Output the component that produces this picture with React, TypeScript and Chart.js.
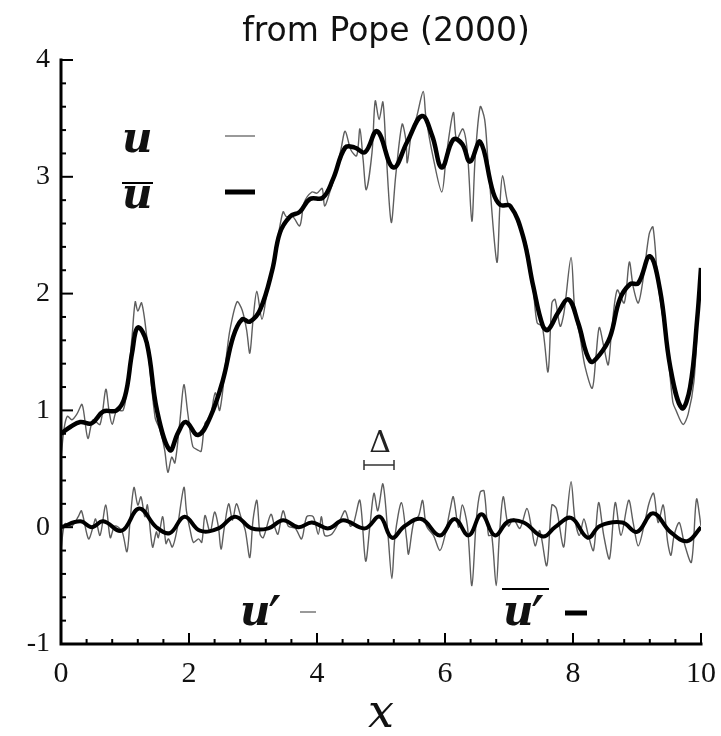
import React, { useEffect, useRef } from "react";
import { Chart, registerables } from "chart.js";

Chart.register(...registerables);

// ---- data ----
// u : instantaneous signal (thin line)
const uX = [0.0, 0.05, 0.1, 0.17, 0.25, 0.33, 0.42, 0.5, 0.61, 0.7, 0.75, 0.8, 0.87, 0.97, 1.03, 1.11, 1.16, 1.2, 1.26, 1.34, 1.47, 1.55, 1.62, 1.67, 1.73, 1.78, 1.86, 1.92, 1.98, 2.06, 2.14, 2.19, 2.25, 2.33, 2.41, 2.48, 2.59, 2.64, 2.75, 2.83, 2.9, 2.95, 3.0, 3.06, 3.14, 3.22, 3.3, 3.38, 3.47, 3.52, 3.62, 3.73, 3.8, 3.92, 4.0, 4.08, 4.12, 4.2, 4.3, 4.38, 4.44, 4.53, 4.62, 4.67, 4.72, 4.77, 4.86, 4.91, 4.97, 5.03, 5.08, 5.16, 5.23, 5.33, 5.39, 5.41, 5.47, 5.56, 5.66, 5.7, 5.81, 5.95, 6.02, 6.13, 6.18, 6.28, 6.35, 6.42, 6.47, 6.55, 6.62, 6.67, 6.81, 6.86, 6.9, 6.98, 7.06, 7.16, 7.28, 7.38, 7.44, 7.52, 7.61, 7.67, 7.72, 7.8, 7.86, 7.97, 8.03, 8.11, 8.19, 8.3, 8.36, 8.41, 8.48, 8.55, 8.6, 8.69, 8.8, 8.88, 8.94, 9.02, 9.1, 9.19, 9.25, 9.33, 9.47, 9.56, 9.61, 9.72, 9.8, 9.89, 9.95, 10.0];
const uY = [0.6, 0.85, 0.95, 0.92, 0.97, 1.05, 0.76, 0.92, 0.88, 1.18, 1.0, 0.88, 1.0, 1.0, 1.18, 1.63, 1.93, 1.85, 1.92, 1.63, 0.94, 0.83, 0.66, 0.47, 0.6, 0.55, 0.92, 1.22, 0.98, 0.69, 0.66, 0.65, 0.89, 0.94, 1.15, 1.0, 1.49, 1.69, 1.93, 1.86, 1.69, 1.49, 1.77, 2.02, 1.78, 2.01, 2.2, 2.45, 2.7, 2.66, 2.66, 2.58, 2.78, 2.87, 2.86, 2.9, 2.75, 2.87, 3.05, 3.25, 3.39, 3.23, 3.18, 3.41, 3.15, 2.89, 3.21, 3.65, 3.49, 3.64, 3.21, 2.61, 3.01, 3.45, 3.31, 3.12, 3.35, 3.52, 3.73, 3.52, 3.18, 2.87, 3.18, 3.55, 3.32, 3.41, 3.21, 2.62, 3.15, 3.6, 3.49, 3.15, 2.27, 2.78, 3.01, 2.78, 2.72, 2.57, 2.4, 2.03, 1.75, 1.72, 1.33, 1.92, 1.95, 1.72, 1.84, 2.31, 1.84, 1.63, 1.37, 1.19, 1.47, 1.71, 1.55, 1.39, 1.66, 2.03, 1.92, 2.27, 2.06, 1.92, 2.14, 2.51, 2.57, 2.08, 1.55, 1.07, 1.0, 0.88, 0.97, 1.25, 1.8, 2.22];

// u-bar : filtered signal (thick line)
const uBarX = [0.0, 0.15, 0.3, 0.48, 0.66, 0.87, 1.0, 1.11, 1.2, 1.34, 1.5, 1.7, 1.83, 1.95, 2.14, 2.33, 2.53, 2.69, 2.83, 2.95, 3.11, 3.3, 3.42, 3.58, 3.73, 3.89, 4.09, 4.25, 4.44, 4.59, 4.75, 4.94, 5.19, 5.41, 5.64, 5.8, 5.95, 6.13, 6.27, 6.39, 6.55, 6.75, 6.86, 7.02, 7.22, 7.38, 7.53, 7.61, 7.77, 7.93, 8.08, 8.27, 8.42, 8.58, 8.73, 8.89, 9.02, 9.2, 9.36, 9.52, 9.7, 9.83, 9.94, 10.0];
const uBarY = [0.8, 0.86, 0.9, 0.89, 0.99, 1.0, 1.12, 1.49, 1.71, 1.58, 1.0, 0.66, 0.81, 0.9, 0.79, 0.94, 1.26, 1.63, 1.78, 1.76, 1.86, 2.2, 2.52, 2.66, 2.7, 2.81, 2.82, 2.98, 3.25, 3.25, 3.21, 3.39, 3.08, 3.3, 3.52, 3.35, 3.08, 3.32, 3.28, 3.13, 3.3, 2.87, 2.76, 2.75, 2.49, 2.06, 1.72, 1.69, 1.84, 1.95, 1.75, 1.42, 1.48, 1.63, 1.95, 2.08, 2.09, 2.32, 2.03, 1.37, 1.02, 1.2, 1.78, 2.22];

// u' : fluctuation (thin line)
const upX = [0.0, 0.06, 0.17, 0.27, 0.32, 0.43, 0.5, 0.54, 0.61, 0.7, 0.77, 0.84, 0.95, 1.03, 1.08, 1.14, 1.2, 1.25, 1.31, 1.35, 1.43, 1.49, 1.52, 1.59, 1.64, 1.68, 1.74, 1.81, 1.92, 1.96, 2.02, 2.07, 2.15, 2.2, 2.25, 2.33, 2.4, 2.46, 2.5, 2.55, 2.62, 2.68, 2.74, 2.81, 2.88, 2.95, 3.0, 3.06, 3.11, 3.16, 3.28, 3.34, 3.39, 3.47, 3.55, 3.66, 3.76, 3.84, 3.94, 4.02, 4.07, 4.12, 4.23, 4.36, 4.44, 4.52, 4.57, 4.67, 4.76, 4.83, 4.89, 4.95, 5.03, 5.11, 5.17, 5.22, 5.32, 5.4, 5.43, 5.51, 5.59, 5.65, 5.71, 5.82, 5.92, 6.0, 6.08, 6.13, 6.21, 6.27, 6.35, 6.42, 6.49, 6.55, 6.61, 6.68, 6.73, 6.8, 6.85, 6.91, 6.99, 7.07, 7.17, 7.28, 7.35, 7.41, 7.48, 7.59, 7.67, 7.74, 7.85, 7.9, 7.97, 8.03, 8.1, 8.17, 8.24, 8.32, 8.4, 8.48, 8.57, 8.66, 8.75, 8.87, 8.94, 9.02, 9.12, 9.19, 9.26, 9.33, 9.41, 9.48, 9.53, 9.58, 9.66, 9.74, 9.85, 9.93, 10.0];
const upY = [-0.2, 0.03, 0.01, 0.09, 0.14, -0.1, 0.0, 0.07, -0.07, 0.19, -0.09, 0.01, -0.03, -0.21, 0.06, 0.34, 0.19, 0.26, 0.09, 0.19, -0.17, -0.04, -0.09, 0.09, -0.14, -0.1, -0.17, -0.03, 0.34, 0.14, -0.03, -0.13, -0.1, -0.13, 0.1, -0.04, 0.13, 0.0, -0.19, -0.01, 0.2, 0.06, 0.2, 0.09, -0.03, -0.26, 0.06, 0.23, -0.06, -0.09, 0.11, 0.0, -0.06, 0.14, 0.01, -0.01, -0.1, 0.09, 0.09, -0.06, 0.09, -0.07, -0.06, 0.06, 0.14, 0.01, 0.03, 0.23, -0.29, 0.03, 0.29, 0.14, 0.37, -0.07, -0.44, -0.07, 0.21, -0.1, -0.23, 0.04, 0.1, 0.23, 0.01, -0.07, -0.2, -0.07, 0.15, 0.26, 0.0, 0.19, 0.01, -0.5, 0.07, 0.3, 0.31, -0.07, -0.07, -0.5, -0.07, 0.26, 0.01, 0.07, -0.01, 0.16, 0.0, -0.16, -0.03, -0.33, 0.19, 0.16, -0.17, 0.07, 0.39, 0.07, -0.07, 0.07, -0.07, -0.2, 0.21, -0.07, -0.27, 0.21, -0.07, 0.23, 0.04, -0.16, 0.04, 0.21, 0.29, 0.04, 0.19, -0.13, -0.24, -0.07, 0.04, -0.14, -0.3, 0.24, 0.01];

// u'-bar : filtered fluctuation (thick line)
const upBarX = [0.0, 0.3, 0.48, 0.66, 0.95, 1.22, 1.49, 1.7, 1.93, 2.17, 2.46, 2.72, 2.98, 3.24, 3.47, 3.71, 3.92, 4.18, 4.41, 4.75, 4.98, 5.17, 5.37, 5.63, 5.92, 6.15, 6.37, 6.57, 6.78, 6.99, 7.23, 7.53, 7.72, 7.97, 8.23, 8.42, 8.77, 9.0, 9.25, 9.52, 9.78, 10.0];
const upBarY = [0.0, 0.05, 0.0, 0.05, -0.03, 0.16, 0.0, -0.05, 0.09, -0.03, -0.01, 0.09, -0.01, -0.01, 0.06, 0.0, 0.04, -0.01, 0.06, -0.01, 0.09, -0.09, 0.01, 0.07, -0.07, 0.07, -0.07, 0.11, -0.07, 0.05, 0.04, -0.08, 0.0, 0.08, -0.09, 0.01, 0.04, -0.04, 0.12, -0.04, -0.12, 0.0];

const xTickValues = [0, 2, 4, 6, 8, 10];
const yTickValues = [-1, 0, 1, 2, 3, 4];
const titleText = "from Pope (2000)";
const xAxisTitle = "x";

const toPoints = (xs: number[], ys: number[]) => xs.map((x, i) => ({ x, y: ys[i] }));

const decorPlugin = {
  id: "decor",
  afterDraw(chart: any) {
    const { ctx, chartArea: a, scales } = chart;
    const xs = scales.x;
    const ys = scales.y;
    ctx.save();
    ctx.fillStyle = "#111";
    ctx.strokeStyle = "#000";

    // axis lines
    ctx.lineWidth = 3;
    ctx.lineCap = "square";
    ctx.beginPath();
    ctx.moveTo(a.left, ys.getPixelForValue(4));
    ctx.lineTo(a.left, ys.getPixelForValue(-1));
    ctx.lineTo(xs.getPixelForValue(10), ys.getPixelForValue(-1));
    ctx.stroke();

    // inward ticks
    ctx.lineWidth = 2;
    ctx.lineCap = "butt";
    for (let i = 0; i <= 25; i++) {
      const v = -1 + i * 0.2;
      const py = ys.getPixelForValue(v);
      const len = i % 5 === 0 ? 12 : 5;
      ctx.beginPath();
      ctx.moveTo(a.left, py);
      ctx.lineTo(a.left + len, py);
      ctx.stroke();
    }
    for (let i = 0; i <= 25; i++) {
      const v = i * 0.4;
      const px = xs.getPixelForValue(v);
      const len = i % 5 === 0 ? 11 : 5;
      ctx.beginPath();
      ctx.moveTo(px, a.bottom);
      ctx.lineTo(px, a.bottom - len);
      ctx.stroke();
    }

    // title
    ctx.font = '33px "DejaVu Sans"';
    ctx.textAlign = "center";
    ctx.textBaseline = "middle";
    ctx.fillText(titleText, 386, 32);

    // x axis title
    ctx.font = 'italic 46px "DejaVu Serif"';
    ctx.textBaseline = "alphabetic";
    ctx.fillText(xAxisTitle, 381, 727);

    // legend (upper)
    ctx.textAlign = "left";
    ctx.font = 'italic bold 42px "DejaVu Serif"';
    ctx.fillText("u", 122, 152);
    ctx.fillText("u", 122, 208);
    ctx.lineWidth = 2;
    ctx.beginPath();
    ctx.moveTo(122, 183);
    ctx.lineTo(153, 183);
    ctx.stroke();
    ctx.strokeStyle = "#777";
    ctx.lineWidth = 1.5;
    ctx.beginPath();
    ctx.moveTo(225, 136);
    ctx.lineTo(255, 136);
    ctx.stroke();
    ctx.strokeStyle = "#000";
    ctx.lineWidth = 5;
    ctx.beginPath();
    ctx.moveTo(225, 192);
    ctx.lineTo(255, 192);
    ctx.stroke();

    // legend (lower)
    ctx.font = 'italic bold 42px "DejaVu Serif"';
    ctx.fillText("u", 240, 625);
    ctx.fillText("u", 503, 625);
    ctx.font = '60px "DejaVu Serif"';
    ctx.fillText("\u2032", 268, 639);
    ctx.fillText("\u2032", 531, 639);
    ctx.lineWidth = 2;
    ctx.beginPath();
    ctx.moveTo(502, 589);
    ctx.lineTo(549, 589);
    ctx.stroke();
    ctx.strokeStyle = "#777";
    ctx.lineWidth = 1.5;
    ctx.beginPath();
    ctx.moveTo(300, 612);
    ctx.lineTo(316, 612);
    ctx.stroke();
    ctx.strokeStyle = "#000";
    ctx.lineWidth = 5;
    ctx.beginPath();
    ctx.moveTo(565, 613);
    ctx.lineTo(587, 613);
    ctx.stroke();

    // Delta (filter width) marker
    ctx.fillStyle = "#222";
    ctx.font = '30px "DejaVu Serif"';
    ctx.textAlign = "center";
    ctx.fillText("\u0394", 380, 452);
    ctx.lineWidth = 1.5;
    ctx.strokeStyle = "#333";
    ctx.beginPath();
    ctx.moveTo(364, 465);
    ctx.lineTo(394, 465);
    ctx.moveTo(364, 460);
    ctx.lineTo(364, 470);
    ctx.moveTo(394, 460);
    ctx.lineTo(394, 470);
    ctx.stroke();

    ctx.restore();
  },
};

export default function App() {
  const ref = useRef<HTMLCanvasElement | null>(null);
  useEffect(() => {
    if (!ref.current) return;
    const thin = "#5e5e5e";
    const chart = new Chart(ref.current, {
      type: "line",
      data: {
        datasets: [
          {
            label: "u",
            data: toPoints(uX, uY),
            borderColor: thin,
            borderWidth: 1.4,
            tension: 0.3,
            pointRadius: 0,
            order: 2,
          },
          {
            label: "u'",
            data: toPoints(upX, upY),
            borderColor: thin,
            borderWidth: 1.4,
            tension: 0.3,
            pointRadius: 0,
            order: 2,
          },
          {
            label: "ubar",
            data: toPoints(uBarX, uBarY),
            borderColor: "#000",
            borderWidth: 4.5,
            tension: 0.4,
            pointRadius: 0,
            order: 1,
          },
          {
            label: "u'bar",
            data: toPoints(upBarX, upBarY),
            borderColor: "#000",
            borderWidth: 4,
            tension: 0.4,
            pointRadius: 0,
            order: 1,
          },
        ],
      },
      options: {
        responsive: false,
        animation: false,
        devicePixelRatio: 1,
        layout: { padding: { top: 60, right: 20, left: 0, bottom: 0 } },
        plugins: { legend: { display: false }, tooltip: { enabled: false }, title: { display: false } },
        scales: {
          x: {
            type: "linear",
            min: 0,
            max: 10,
            afterFit: (s: any) => {
              s.height = 92;
              s.paddingLeft = 0;
              s.paddingRight = 0;
            },
            afterBuildTicks: (s: any) => {
              s.ticks = xTickValues.map((v) => ({ value: v }));
            },
            ticks: {
              font: { family: '"Liberation Serif"', size: 30 },
              color: "#111",
              padding: 12,
              maxRotation: 0,
              autoSkip: false,
            },
            grid: { display: false, drawTicks: false, tickLength: 0 },
            border: { display: false },
          },
          y: {
            type: "linear",
            min: -1,
            max: 4,
            afterFit: (s: any) => {
              s.width = 61;
              s.paddingTop = 0;
              s.paddingBottom = 0;
            },
            afterBuildTicks: (s: any) => {
              s.ticks = yTickValues.map((v) => ({ value: v }));
            },
            ticks: {
              font: { family: '"Liberation Serif"', size: 28 },
              color: "#111",
              padding: 11,
              autoSkip: false,
            },
            grid: { display: false, drawTicks: false, tickLength: 0 },
            border: { display: false },
          },
        },
      },
      plugins: [decorPlugin],
    });
    return () => chart.destroy();
  }, []);
  return (
    <div style={{ position: "absolute", left: 0, top: 0, width: 721, height: 736, background: "#fff" }}>
      <canvas ref={ref} width={721} height={736} style={{ width: 721, height: 736, display: "block" }} />
    </div>
  );
}
